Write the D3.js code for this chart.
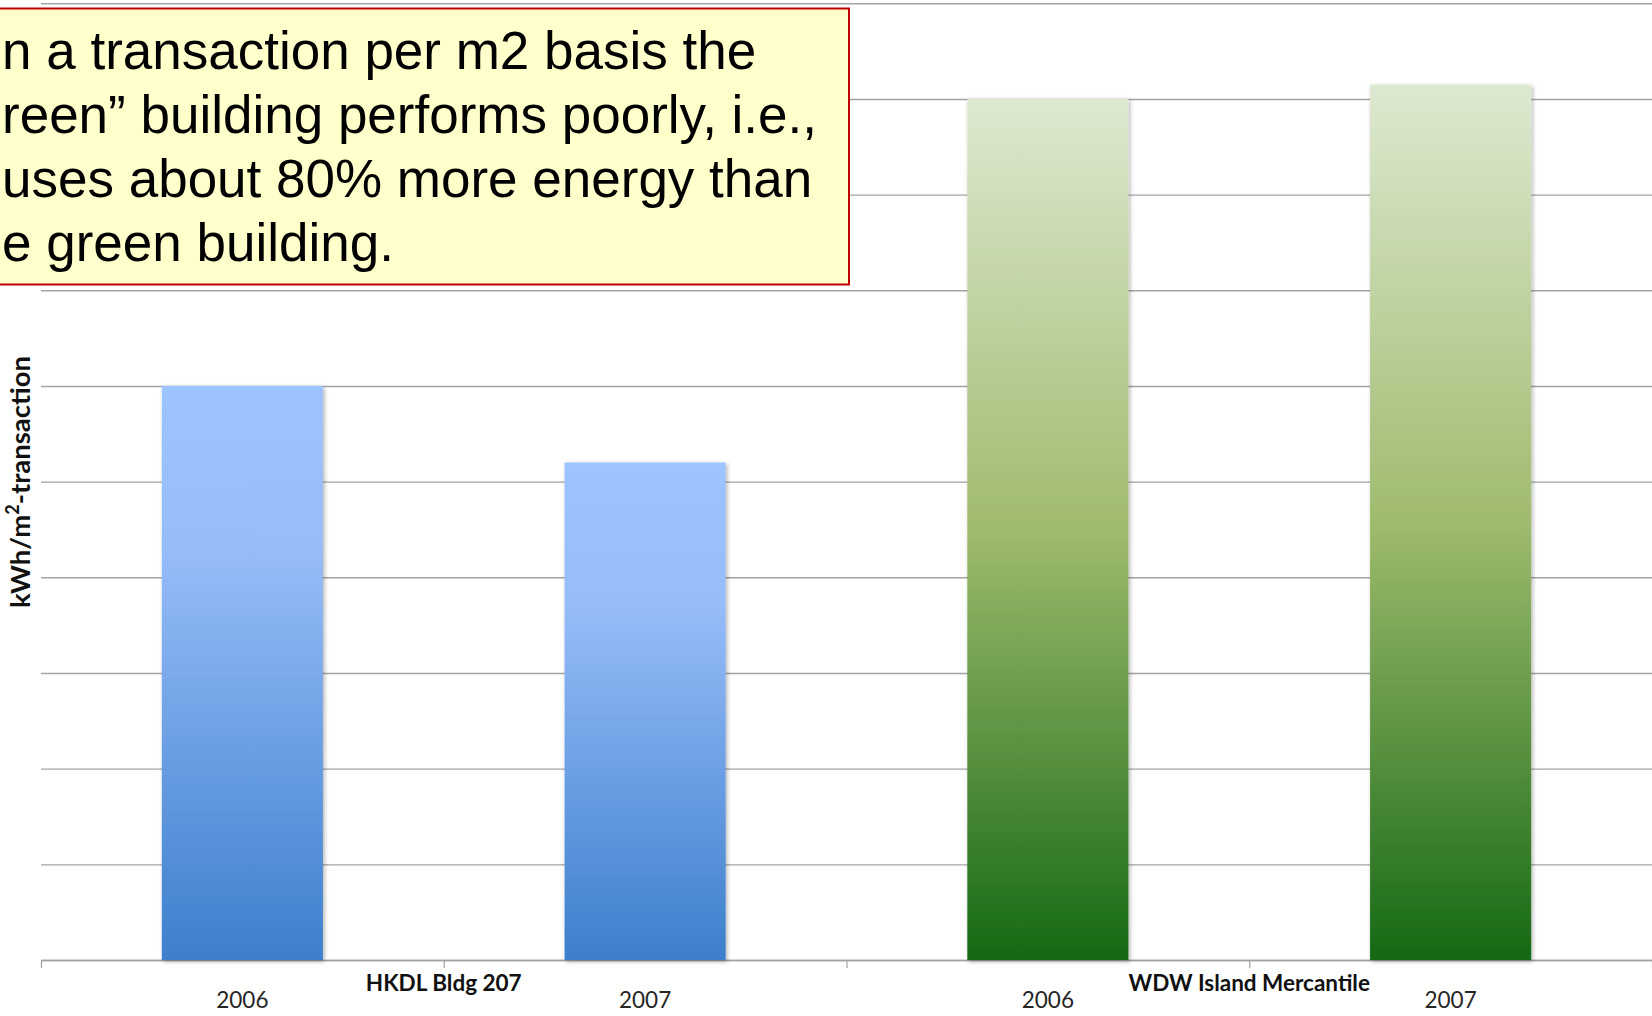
<!DOCTYPE html>
<html>
<head>
<meta charset="utf-8">
<script src="https://cdn.jsdelivr.net/npm/d3@7"></script>
<style>
  html, body { margin: 0; padding: 0; background: #ffffff; overflow: hidden; }
  svg { display: block; }
</style>
</head>
<body>
<svg id="chart" width="1652" height="1016"></svg>
<script>
// Energy use intensity per m² per transaction, two buildings, two years each
const buildings = ["HKDL Bldg 207", "WDW Island Mercantile"];
const years = ["2006", "2007"];
const hkdlValues = [6.0, 5.2];
const wdwValues = [9.0, 9.15];
const yTicks = [0, 1, 2, 3, 4, 5, 6, 7, 8, 9, 10];
const yLabel = "kWh/m";
const yLabelSup = "2";
const yLabelTail = "-transaction";
const noteLines = [
  "n a transaction per m2 basis the",
  "reen\u201D building performs poorly, i.e.,",
  "uses about 80% more energy than",
  "e green building."
];

const rows = [
  ...years.map((yr, i) => ({ building: buildings[0], year: yr, value: hkdlValues[i], kind: "blue" })),
  ...years.map((yr, i) => ({ building: buildings[1], year: yr, value: wdwValues[i], kind: "green" }))
];

const svg = d3.select("#chart");
const plotLeft = 41, plotRight = 1652, plotTop = 3.3, plotBottom = 960;

const x0 = d3.scaleBand().domain(buildings).range([plotLeft, plotRight]).padding(0);
const x1 = d3.scaleBand().domain(years).range([0, x0.bandwidth()]).paddingInner(0.6).paddingOuter(0.3);
const y = d3.scaleLinear().domain([0, 10]).range([plotBottom, plotTop]);
const slots = d3.scaleLinear().domain([0, 4]).range([plotLeft, plotRight]);

// gradients & shadow
const defs = svg.append("defs");
const gradBlue = defs.append("linearGradient").attr("id", "gBlue")
  .attr("x1", 0).attr("y1", 0).attr("x2", 0).attr("y2", 1);
[[0, "#9ec4ff"], [0.28, "#97bdf9"], [1, "#3d7fcc"]].forEach(([o, c]) =>
  gradBlue.append("stop").attr("offset", o).attr("stop-color", c));
const gradGreen = defs.append("linearGradient").attr("id", "gGreen")
  .attr("x1", 0).attr("y1", 0).attr("x2", 0).attr("y2", 1);
[[0, "#dde9d1"], [0.5, "#9fbb6e"], [1, "#156914"]].forEach(([o, c]) =>
  gradGreen.append("stop").attr("offset", o).attr("stop-color", c));
const shadow = defs.append("filter").attr("id", "barShadow")
  .attr("x", "-10%").attr("y", "-10%").attr("width", "130%").attr("height", "120%");
shadow.append("feDropShadow").attr("dx", 1.5).attr("dy", 1.5).attr("stdDeviation", 2.2)
  .attr("flood-color", "#000").attr("flood-opacity", 0.3);

// horizontal gridlines
const grid = svg.append("g").attr("transform", `translate(${plotLeft},0)`)
  .call(d3.axisLeft(y).tickValues(yTicks).tickSize(-(plotRight - plotLeft)).tickFormat(""));
grid.select(".domain").remove();
grid.selectAll(".tick line").attr("stroke", "#a3a3a3").attr("stroke-width", 1.4);

// x axis with tick marks at slot boundaries
const xAxis = svg.append("g").attr("transform", `translate(0,${plotBottom})`)
  .call(d3.axisBottom(slots).tickValues([0, 1, 2, 3, 4]).tickSize(8).tickSizeOuter(0).tickFormat(""));
xAxis.select(".domain").attr("stroke", "#a3a3a3").attr("stroke-width", 1.4);
xAxis.selectAll(".tick line").attr("stroke", "#a3a3a3").attr("stroke-width", 1.2);

// bars
svg.append("g").selectAll("rect").data(rows).join("rect")
  .attr("x", d => x0(d.building) + x1(d.year))
  .attr("width", x1.bandwidth())
  .attr("y", d => y(d.value))
  .attr("height", d => y(0) - y(d.value))
  .attr("fill", d => d.kind === "blue" ? "url(#gBlue)" : "url(#gGreen)")
  .attr("filter", "url(#barShadow)");

// year labels under each bar
svg.append("g").selectAll("text").data(rows).join("text")
  .attr("x", d => x0(d.building) + x1(d.year) + x1.bandwidth() / 2)
  .attr("y", 1008)
  .attr("text-anchor", "middle")
  .attr("font-family", "Lato, 'Open Sans', sans-serif")
  .attr("font-size", 22.5)
  .attr("fill", "#262626")
  .text(d => d.year);

// building labels centred on each group
svg.append("g").selectAll("text").data(buildings).join("text")
  .attr("x", d => x0(d) + x0.bandwidth() / 2)
  .attr("y", 991)
  .attr("text-anchor", "middle")
  .attr("font-family", "Lato, 'Open Sans', sans-serif")
  .attr("font-weight", "bold")
  .attr("font-size", 22.5)
  .attr("fill", "#111")
  .text(d => d);

// y axis title
const yt = svg.append("text")
  .attr("transform", "translate(30,482) rotate(-90)")
  .attr("text-anchor", "middle")
  .attr("font-family", "Lato, 'Open Sans', sans-serif")
  .attr("font-weight", "bold")
  .attr("font-size", 27.5)
  .attr("fill", "#111");
yt.append("tspan").text(yLabel);
yt.append("tspan").attr("baseline-shift", "super").attr("font-size", 18).text(yLabelSup);
yt.append("tspan").text(yLabelTail);

// annotation box
const note = svg.append("g");
note.append("rect")
  .attr("x", -10).attr("y", 8.5).attr("width", 859).attr("height", 276)
  .attr("fill", "#ffffcc").attr("stroke", "#c00000").attr("stroke-width", 2);
note.selectAll("text").data(noteLines).join("text")
  .attr("x", 2)
  .attr("y", (d, i) => 69 + i * 64)
  .attr("font-family", "'Liberation Sans', Arial, sans-serif")
  .attr("font-size", 53)
  .attr("fill", "#000")
  .text(d => d);
</script>
</body>
</html>
